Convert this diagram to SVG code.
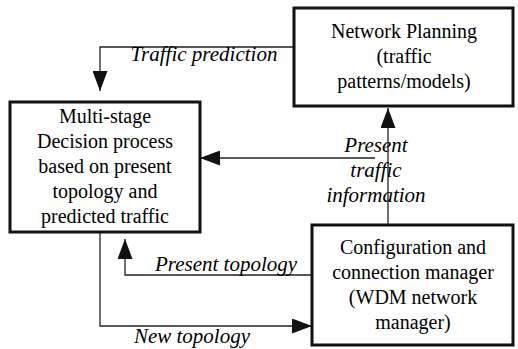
<svg xmlns="http://www.w3.org/2000/svg" width="518" height="349" viewBox="0 0 518 349">
<defs>
<marker id="ah" viewBox="0 0 20 15" refX="20" refY="7.5" markerWidth="20" markerHeight="15" markerUnits="userSpaceOnUse" orient="auto">
<path d="M0,0 L20,7.5 L0,15 Z" fill="#111"/>
</marker>
</defs>
<rect width="518" height="349" fill="#fff"/>
<g id="connectors">
<g fill="none" stroke="#222" stroke-width="1.3">
<path d="M294,47 H100 V91" marker-end="url(#ah)"/>
<path d="M388,225 V108" marker-end="url(#ah)"/>
<path d="M375,158 H200" marker-end="url(#ah)"/>
<path d="M312,275 H125 V239" marker-end="url(#ah)"/>
<path d="M100,233 V326 H312" marker-end="url(#ah)"/>
</g>
<text x="204" y="61" font-family="Liberation Serif" font-size="21" font-style="italic" text-anchor="middle">Traffic prediction</text>
<text x="376" y="152" font-family="Liberation Serif" font-size="21" font-style="italic" text-anchor="middle">Present</text>
<text x="376" y="177" font-family="Liberation Serif" font-size="21" font-style="italic" text-anchor="middle">traffic</text>
<text x="376" y="202" font-family="Liberation Serif" font-size="21" font-style="italic" text-anchor="middle">information</text>
<text x="226" y="271" font-family="Liberation Serif" font-size="21" font-style="italic" text-anchor="middle">Present topology</text>
<text x="192" y="343" font-family="Liberation Serif" font-size="21" font-style="italic" text-anchor="middle">New topology</text>
</g>
<g id="network-planning">
<rect x="294" y="8" width="219" height="98" fill="#fff" stroke="#111" stroke-width="3"/>
<text x="404" y="38" font-family="Liberation Serif" font-size="20" text-anchor="middle">Network Planning</text>
<text x="404" y="63" font-family="Liberation Serif" font-size="20" text-anchor="middle">(traffic</text>
<text x="404" y="88" font-family="Liberation Serif" font-size="20" text-anchor="middle">patterns/models)</text>
</g>
<g id="decision-process">
<rect x="10" y="102" width="190" height="130" fill="#fff" stroke="#111" stroke-width="3"/>
<text x="105" y="123" font-family="Liberation Serif" font-size="20" text-anchor="middle">Multi-stage</text>
<text x="105" y="148" font-family="Liberation Serif" font-size="20" text-anchor="middle">Decision process</text>
<text x="105" y="173" font-family="Liberation Serif" font-size="20" text-anchor="middle">based on present</text>
<text x="105" y="198" font-family="Liberation Serif" font-size="20" text-anchor="middle">topology and</text>
<text x="105" y="223" font-family="Liberation Serif" font-size="20" text-anchor="middle">predicted traffic</text>
</g>
<g id="config-manager">
<rect x="312" y="225" width="201" height="120" fill="#fff" stroke="#111" stroke-width="3"/>
<text x="413" y="254" font-family="Liberation Serif" font-size="20" text-anchor="middle">Configuration and</text>
<text x="413" y="279" font-family="Liberation Serif" font-size="20" text-anchor="middle">connection manager</text>
<text x="413" y="304" font-family="Liberation Serif" font-size="20" text-anchor="middle">(WDM network</text>
<text x="413" y="329" font-family="Liberation Serif" font-size="20" text-anchor="middle">manager)</text>
</g>
</svg>
